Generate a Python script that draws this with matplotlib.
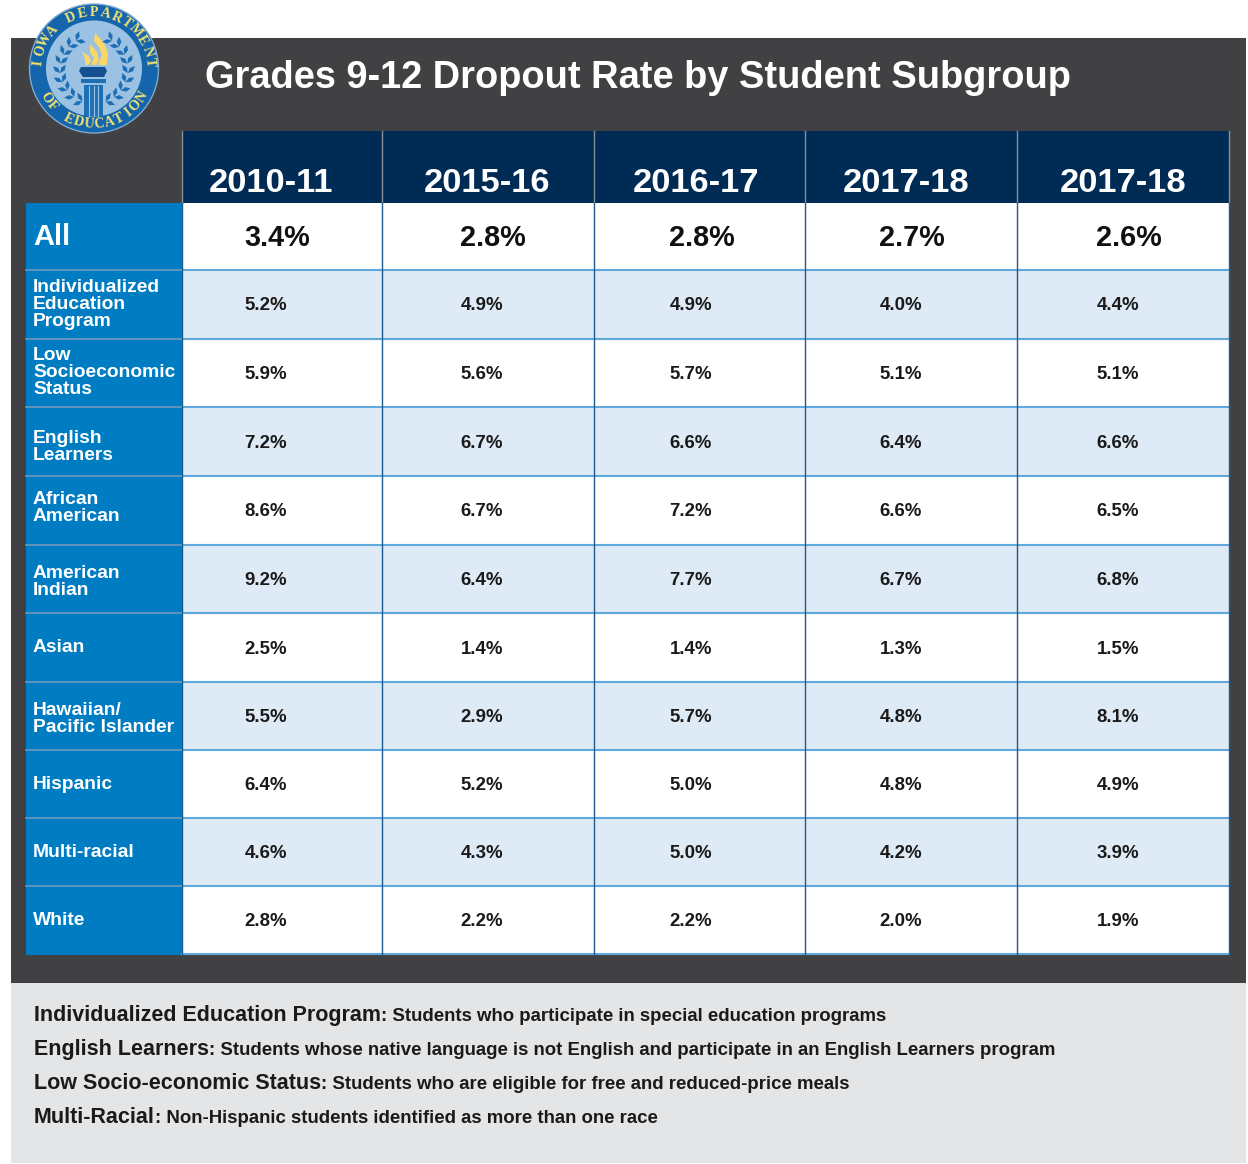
import numpy as np
import matplotlib
matplotlib.use("Agg")
import matplotlib.pyplot as plt
from matplotlib.patches import Rectangle, Circle, Polygon

plt.rcParams['font.family'] = ['Liberation Sans', 'DejaVu Sans']

title = "Grades 9-12 Dropout Rate by Student Subgroup"
years = ["2010-11", "2015-16", "2016-17", "2017-18", "2017-18"]
groups = ["All", "Individualized\nEducation\nProgram", "Low\nSocioeconomic\nStatus",
          "English\nLearners", "African\nAmerican", "American\nIndian", "Asian",
          "Hawaiian/\nPacific Islander", "Hispanic", "Multi-racial", "White"]
col_2010 = [3.4, 5.2, 5.9, 7.2, 8.6, 9.2, 2.5, 5.5, 6.4, 4.6, 2.8]
col_2015 = [2.8, 4.9, 5.6, 6.7, 6.7, 6.4, 1.4, 2.9, 5.2, 4.3, 2.2]
col_2016 = [2.8, 4.9, 5.7, 6.6, 7.2, 7.7, 1.4, 5.7, 5.0, 5.0, 2.2]
col_2017 = [2.7, 4.0, 5.1, 6.4, 6.6, 6.7, 1.3, 4.8, 4.8, 4.2, 2.0]
col_2018 = [2.6, 4.4, 5.1, 6.6, 6.5, 6.8, 1.5, 8.1, 4.9, 3.9, 1.9]
columns = [col_2010, col_2015, col_2016, col_2017, col_2018]
notes = [("Individualized Education Program", ": Students who participate in special education programs"),
         ("English Learners", ": Students whose native language is not English and participate in an English Learners program"),
         ("Low Socio-economic Status", ": Students who are eligible for free and reduced-price meals"),
         ("Multi-Racial", ": Non-Hispanic students identified as more than one race")]

DARK = "#414042"; NAVY = "#002b54"; BLUE = "#007cc3"; TINT = "#deeaf5"
RULE = "#5ea8dc"; GREY = "#e4e5e7"; INK = "#1a1a1a"

fig = plt.figure(figsize=(12.48, 11.64), dpi=100, facecolor="white")
ax = fig.add_axes([0, 0, 1, 1])
ax.set_xlim(0, 1248); ax.set_ylim(1164, 0); ax.axis("off")

def rect(x0, y0, x1, y1, c, z=1):
    ax.add_patch(Rectangle((x0, y0), x1 - x0, y1 - y0, fc=c, ec="none", zorder=z))

rect(11, 38, 1246, 983, DARK)
rect(11, 983, 1246, 1163, GREY)

xs = [181.5, 381.5, 593.5, 804.5, 1016.5, 1228.5]
ys = [203, 270, 339, 407, 476, 545, 613, 682, 750, 818, 886, 954]

# header
rect(182, 131, 1229, 203, NAVY, 2)
for x in xs:
    ax.plot([x, x], [131, 203], color="#8a9099", lw=1.0, zorder=3)
hdr_x = [271, 487, 696, 906, 1123]
big_x = [277, 493, 702, 912, 1129]
small_x = [266, 482, 691, 901, 1118]
for x, y in zip(hdr_x, years):
    ax.text(x, 192, y, color="white", fontsize=24.8, fontweight="bold", ha="center", va="baseline", zorder=4)

# body
label_base = [245, 292, 360, 443, 504, 578, 652, 715, 789, 857, 925]
rect(26, 203, 182, 955, BLUE, 2)
for i, g in enumerate(groups):
    y0, y1 = ys[i], ys[i + 1]
    rect(182, y0, 1229, y1, TINT if i % 2 == 1 else "white", 2)
    cy = (y0 + y1) / 2
    if i == 0:
        ax.text(33, label_base[0], g, color="white", fontsize=21, fontweight="bold", ha="left", va="baseline", zorder=4)
    else:
        for k, ln in enumerate(g.split("\n")):
            ax.text(33, label_base[i] + k * 17.2, ln, color="white", fontsize=13.9,
                    fontweight="bold", ha="left", va="baseline", zorder=4)
    for j, col in enumerate(columns):
        if i == 0:
            ax.text(big_x[j], 246, f"{col[i]:.1f}%", color="#111111", fontsize=20.8, fontweight="bold",
                    ha="center", va="baseline", zorder=4)
        else:
            ax.text(small_x[j], cy + 6, f"{col[i]:.1f}%", color=INK, fontsize=13.4, fontweight="bold",
                    ha="center", va="baseline", zorder=4)
for y in ys[1:]:
    ax.plot([182, 1229], [y, y], color=RULE, lw=1.5, zorder=3)
    if y < 954:
        ax.plot([26, 182], [y, y], color="#6f9ab9", lw=1.2, zorder=3)
for x in xs:
    ax.plot([x, x], [203, 955], color="#1f5a8c", lw=1.0, zorder=3)

ax.text(205, 88, title, color="white", fontsize=27.4, fontweight="bold", ha="left", va="baseline", zorder=4)

# footnotes
r = fig.canvas.get_renderer()
for (a, b), y in zip(notes, [1021, 1055, 1089, 1123]):
    t = ax.text(34, y, a, color=INK, fontsize=15.5, fontweight="bold", ha="left", va="baseline", zorder=4)
    w = t.get_window_extent(r).width
    ax.text(34 + w, y, b, color=INK, fontsize=13.4, fontweight="bold", ha="left", va="baseline", zorder=4)

# seal
cx, cy, R = 94, 68.5, 64.5
ax.add_patch(Circle((cx, cy), R, fc="#1565ad", ec="#7fa9cf", lw=1, zorder=5))
ax.add_patch(Circle((cx, cy), 48, fc="#9cc2e3", ec="none", zorder=6))

def arc(txt, a0, a1, rad, flip):
    for ch, a in zip(txt, np.linspace(a0, a1, len(txt))):
        th = np.deg2rad(a)
        px, py = cx + rad * np.cos(th), cy - rad * np.sin(th)
        rot = a - 90 if not flip else a + 90
        ax.text(px, py, ch, color="#f4e372", fontsize=10, fontweight="bold", family="Liberation Serif",
                ha="center", va="center", rotation=rot, zorder=7)

arc("IOWA DEPARTMENT", 174, 6, 56, False)
arc("OF EDUCATION", 211, 329, 56, True)

# torch
b = "#1f6fb5"; d = "#15518f"; fl = "#fbd765"
ax.add_patch(Polygon([(95, 33), (104, 43), (108, 53), (107, 65), (98, 65), (102, 55), (99, 47), (94, 41)], fc=fl, ec="none", zorder=7))
ax.add_patch(Polygon([(90, 44), (97, 52), (99, 60), (96, 65), (91, 65), (94, 58), (90, 52)], fc=fl, ec="none", zorder=7))
ax.add_patch(Polygon([(82, 52), (89, 56), (91, 61), (88, 65), (85, 65), (85, 59)], fc=fl, ec="none", zorder=7))
ax.add_patch(Polygon([(81, 67), (105, 67), (107, 71), (104, 77), (83, 77), (79, 71)], fc=d, ec="none", zorder=7))
rect(81, 79, 106, 83, b, 7)
rect(84, 85, 103, 116, b, 7)
for x in (89, 94, 98):
    ax.plot([x, x], [86, 116], color="#9cc2e3", lw=0.8, zorder=8)

# laurel branches
def leaf(px, py, ang, L=10, W=2.3):
    u = np.array([np.cos(ang), -np.sin(ang)]); n = np.array([u[1], -u[0]])
    p = np.array([px, py])
    ax.add_patch(Polygon([p, p + u * L / 2 + n * W, p + u * L, p + u * L / 2 - n * W], fc=b, ec="none", zorder=7))

for sign in (-1, 1):
    for a in np.deg2rad(np.linspace(-70, 58, 9)):
        px, py = cx + sign * 34 * np.cos(a), cy + 1 - 34 * np.sin(a)
        tangent = (np.pi / 2 + a) if sign > 0 else (np.pi / 2 - a)
        for turn in (-0.7, 0.7):
            leaf(px, py, tangent + turn)

fig.savefig("out.png", dpi=100, facecolor="white")
